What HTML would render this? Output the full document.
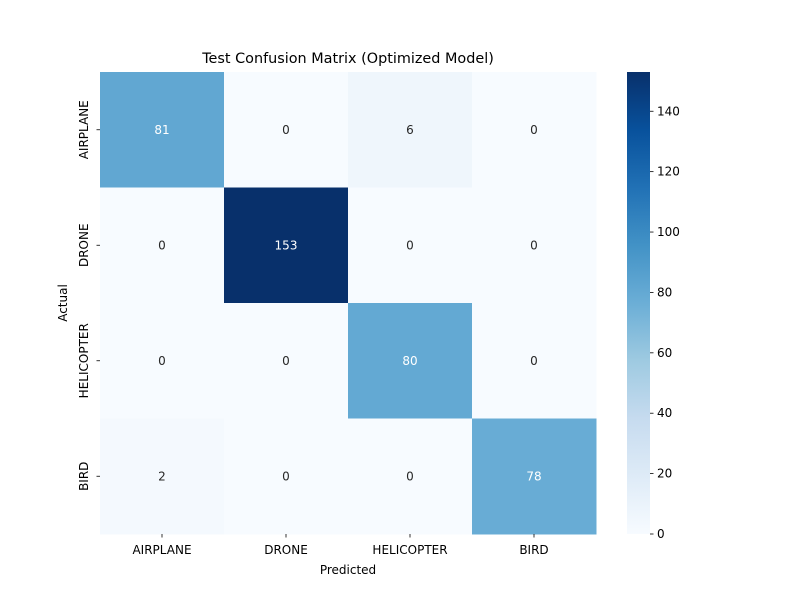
<!DOCTYPE html>
<html><head><meta charset="utf-8"><style>
body{margin:0;background:#fff;font-family:"Liberation Sans","DejaVu Sans",sans-serif;}
svg text{font-family:"DejaVu Sans","Liberation Sans",sans-serif;}
</style></head><body>
<svg id="chart" width="800" height="600" xmlns="http://www.w3.org/2000/svg">
<defs><linearGradient id="cbg" x1="0" y1="1" x2="0" y2="0"></linearGradient></defs>
<text x="348" y="63" font-size="14.4" text-anchor="middle" fill="#000">Test Confusion Matrix (Optimized Model)</text>
<g id="cells"></g>
<g id="axes"></g>
<text x="348" y="574" font-size="12" text-anchor="middle">Predicted</text>
<text transform="translate(67,303) rotate(-90)" font-size="12" text-anchor="middle">Actual</text>
<rect x="627" y="72" width="23" height="462" fill="url(#cbg)"/>
<g id="cbticks"></g>
</svg>
<script>
const labels=["AIRPLANE","DRONE","HELICOPTER","BIRD"];
const values=[[81,0,6,0],[0,153,0,0],[0,0,80,0],[2,0,0,78]];
const cbTicks=[0,20,40,60,80,100,120,140];
const vmin=0, vmax=153;
const L=100,T=72,W=496,H=462;
const stops=["#f7fbff","#deebf7","#c6dbef","#9ecae1","#6baed6","#4292c6","#2171b5","#08519c","#08306b"];
function hex(h){return [1,3,5].map(i=>parseInt(h.substr(i,2),16));}
function cmap(t){t=Math.max(0,Math.min(1,t));const p=t*8,i=Math.min(7,Math.floor(p)),f=p-i;const a=hex(stops[i]),b=hex(stops[i+1]);return a.map((v,k)=>Math.round(v+(b[k]-v)*f));}
function rgb(c){return `rgb(${c[0]},${c[1]},${c[2]})`;}
function lum(c){const l=c.map(v=>{v/=255;return v<=0.03928?v/12.92:Math.pow((v+0.055)/1.055,2.4);});return 0.2126*l[0]+0.7152*l[1]+0.0722*l[2];}
const NS="http://www.w3.org/2000/svg";
const n=labels.length,cw=W/n,ch=H/n;
const xS=j=>L+j*cw, yS=i=>T+i*ch, cS=v=>T+H-(v-vmin)/(vmax-vmin)*H;
const cells=document.getElementById('cells');
for(let i=0;i<n;i++)for(let j=0;j<n;j++){
 const v=values[i][j],c=cmap((v-vmin)/(vmax-vmin));
 const r=document.createElementNS(NS,'rect');
 r.setAttribute('x',xS(j));r.setAttribute('y',yS(i));r.setAttribute('width',cw+0.5);r.setAttribute('height',ch+0.5);r.setAttribute('fill',rgb(c));
 
 
 cells.appendChild(r);
 const t=document.createElementNS(NS,'text');
 t.setAttribute('x',xS(j)+cw/2);t.setAttribute('y',yS(i)+ch/2+4);t.setAttribute('text-anchor','middle');t.setAttribute('font-size','12');
 t.setAttribute('fill',lum(c)>0.408?'#262626':'#ffffff');t.textContent=v;
 
 
 cells.appendChild(t);
}
const ax=document.getElementById('axes');
labels.forEach((lb,k)=>{
 const x=xS(k)+cw/2;
 const tk=document.createElementNS(NS,'line');tk.setAttribute('x1',x);tk.setAttribute('x2',x);tk.setAttribute('y1',T+H);tk.setAttribute('y2',T+H+3.5);tk.setAttribute('stroke','#000');tk.setAttribute('stroke-width','0.8');ax.appendChild(tk);
 const t=document.createElementNS(NS,'text');t.setAttribute('x',x);t.setAttribute('y',T+H+20);t.setAttribute('text-anchor','middle');t.setAttribute('font-size','12');t.textContent=lb;
 
 
 ax.appendChild(t);
 const y=yS(k)+ch/2;
 const tk2=document.createElementNS(NS,'line');tk2.setAttribute('x1',L-3.5);tk2.setAttribute('x2',L);tk2.setAttribute('y1',y);tk2.setAttribute('y2',y);tk2.setAttribute('stroke','#000');tk2.setAttribute('stroke-width','0.8');ax.appendChild(tk2);
 const t2=document.createElementNS(NS,'text');t2.setAttribute('transform',`translate(${L-12},${y}) rotate(-90)`);t2.setAttribute('text-anchor','middle');t2.setAttribute('font-size','12');t2.textContent=lb;
 
 
 ax.appendChild(t2);
});
const g=document.getElementById('cbg');
stops.forEach((s,k)=>{const st=document.createElementNS(NS,'stop');st.setAttribute('offset',k/8);st.setAttribute('stop-color',s);g.appendChild(st);});
const cb=document.getElementById('cbticks');
cbTicks.forEach(v=>{
 const y=cS(v);
 const tk=document.createElementNS(NS,'line');tk.setAttribute('x1',650);tk.setAttribute('x2',653.5);tk.setAttribute('y1',y);tk.setAttribute('y2',y);tk.setAttribute('stroke','#000');tk.setAttribute('stroke-width','0.8');cb.appendChild(tk);
 const t=document.createElementNS(NS,'text');t.setAttribute('x',657);t.setAttribute('y',y+4);t.setAttribute('font-size','12');t.textContent=v;
 
 
 cb.appendChild(t);
});
</script>
</body></html>
